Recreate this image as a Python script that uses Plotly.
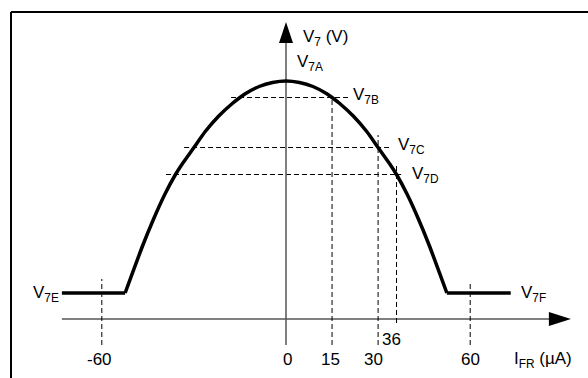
import plotly.graph_objects as go

# ---------------- data (schematic units) ----------------
# transfer curve V7 vs IFR
curve_x = [-52.4, -46.7, -43.2, -39.5, -36, -33.7, -30, -26.3, -21.9, -17.5, -15, -13.15,
           -8.77, -4.38, 0,
           4.38, 8.77, 13.15, 15, 17.5, 21.9, 26.3, 30, 33.7, 36, 39.5, 43.2, 46.7, 52.4]
curve_y = [0.52, 1.465, 1.99, 2.49, 2.89, 3.11, 3.43, 3.75, 4.06, 4.31, 4.43, 4.51,
           4.65, 4.73, 4.76,
           4.73, 4.65, 4.51, 4.43, 4.31, 4.06, 3.75, 3.43, 3.11, 2.89, 2.49, 1.99, 1.465, 0.52]
flat_left_x = [-73.0, -52.4]
flat_right_x = [52.4, 73.2]
flat_y = [0.52, 0.52]

# dashed guides
h_guide_y = [4.43, 3.43, 2.89]
h_guide_x0 = [-17.9, -33.2, -39.1]
h_guide_x1 = [20.2, 33.9, 37.5]
v_guide_x = [-60, 15, 30, 36, 60]
v_guide_y0 = [-0.52, -0.52, -0.52, -0.08, -0.52]
v_guide_y1 = [0.80, 4.43, 3.68, 3.12, 0.76]

# tick labels
tick_vals = [-60, 0, 15, 30, 36, 60]
tick_text = ["-60", "0", "15", "30", "36", "60"]
tick_y = [-0.81, -0.81, -0.81, -0.81, -0.41, -0.81]
tick_xshift = [-2, 1, -2, -5, -5, 0]

# level labels
lvl_text = ["V<sub>7</sub> (V)", "V<sub>7A</sub>", "V<sub>7B</sub>", "V<sub>7C</sub>",
            "V<sub>7D</sub>", "V<sub>7E</sub>", "V<sub>7F</sub>", "I<sub>FR</sub> (µA)"]
lvl_x = [4.79, 2.93, 21.17, 35.83, 40.39, -83.06, 75.9, 73.6]
lvl_y = [5.62, 5.12, 4.47, 3.46, 2.88, 0.51, 0.50, -0.81]

# axis extents
x_axis = [-73.0, 86.0]
x_tip = 92.8
y_axis = [-0.52, 5.6]
y_tip = 5.94

X_RANGE = [-93.16, 98.37]
Y_RANGE = [-1.18, 6.38]
FONT = "Liberation Sans, Arial, sans-serif"
FS = 17

fig = go.Figure()

# dashed guides
for y, x0, x1 in zip(h_guide_y, h_guide_x0, h_guide_x1):
    fig.add_trace(go.Scatter(x=[x0, x1], y=[y, y], mode="lines",
                             line=dict(color="black", width=1, dash="5px,3px"),
                             hoverinfo="skip"))
for x, y0, y1 in zip(v_guide_x, v_guide_y0, v_guide_y1):
    fig.add_trace(go.Scatter(x=[x, x], y=[y0, y1], mode="lines",
                             line=dict(color="black", width=1, dash="5px,3px"),
                             hoverinfo="skip"))

# axes lines
fig.add_trace(go.Scatter(x=x_axis, y=[0, 0], mode="lines",
                         line=dict(color="black", width=1), hoverinfo="skip"))
fig.add_trace(go.Scatter(x=[0, 0], y=y_axis, mode="lines",
                         line=dict(color="#555", width=1.5), hoverinfo="skip"))

# curve
fig.add_trace(go.Scatter(x=curve_x, y=curve_y, mode="lines",
                         line=dict(color="black", width=3.5, shape="spline", smoothing=0.6),
                         hoverinfo="skip"))
fig.add_trace(go.Scatter(x=flat_left_x, y=flat_y, mode="lines",
                         line=dict(color="black", width=3.5), hoverinfo="skip"))
fig.add_trace(go.Scatter(x=flat_right_x, y=flat_y, mode="lines",
                         line=dict(color="black", width=3.5), hoverinfo="skip"))

shapes = [
    # arrowheads (pixel-sized, anchored at tips)
    dict(type="path", xref="x", yref="y", xsizemode="pixel", ysizemode="pixel",
         xanchor=x_tip, yanchor=0, path="M0,0 L-22,7 L-22,-7 Z",
         fillcolor="black", line=dict(width=0)),
    dict(type="path", xref="x", yref="y", xsizemode="pixel", ysizemode="pixel",
         xanchor=0, yanchor=y_tip, path="M0,0 L-7,-21 L7,-21 Z",
         fillcolor="black", line=dict(width=0)),
    # frame (top and left edges)
    dict(type="line", xref="paper", yref="paper", x0=11 / 588, x1=1.01,
         y0=1 - 12 / 378, y1=1 - 12 / 378, line=dict(color="black", width=2)),
    dict(type="line", xref="paper", yref="paper", x0=11 / 588, x1=11 / 588,
         y0=-0.01, y1=1 - 12 / 378, line=dict(color="black", width=2)),
]

annotations = []
for t, x, y, xs in zip(tick_text, tick_vals, tick_y, tick_xshift):
    annotations.append(dict(x=x, y=y, text=t, showarrow=False, xanchor="center",
                            yanchor="middle", xshift=xs,
                            font=dict(family=FONT, size=FS, color="black")))
for t, x, y in zip(lvl_text, lvl_x, lvl_y):
    annotations.append(dict(x=x, y=y, text=t, showarrow=False, xanchor="left",
                            yanchor="middle",
                            font=dict(family=FONT, size=FS, color="black")))

fig.update_layout(
    width=588, height=378,
    margin=dict(l=0, r=0, t=0, b=0),
    paper_bgcolor="white", plot_bgcolor="white",
    showlegend=False,
    xaxis=dict(visible=False, range=X_RANGE, fixedrange=True),
    yaxis=dict(visible=False, range=Y_RANGE, fixedrange=True),
    shapes=shapes,
    annotations=annotations,
)

fig.write_html("out.html", config={"displayModeBar": False},
               post_script="document.body.style.margin='0px';"
                           "document.body.style.overflow='hidden';")
